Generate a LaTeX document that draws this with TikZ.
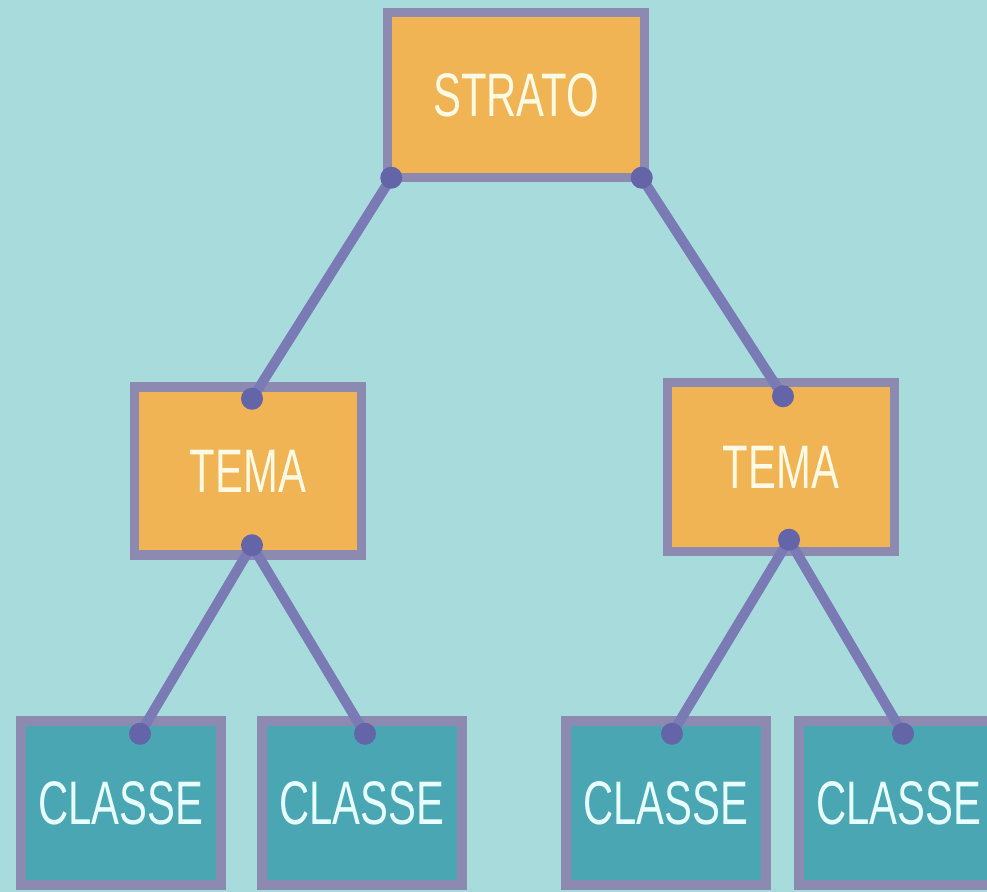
\documentclass[tikz,border=0pt]{standalone}
\usepackage{fontspec}
\usepackage{tikz}
\newfontfamily\boxfont{Liberation Sans}[FakeStretch=0.68]
\definecolor{bgc}{RGB}{168,220,220}
\definecolor{orangec}{RGB}{240,180,84}
\definecolor{tealc}{RGB}{74,166,178}
\definecolor{edgec}{RGB}{140,138,176}
\definecolor{linkc}{RGB}{122,122,180}
\definecolor{dotc}{RGB}{100,100,168}

\begin{document}
\begin{tikzpicture}[
            x=0.02cm, y=-0.02cm,
            box/.style={draw=edgec, line width=0.19cm, inner sep=0pt, outer sep=0pt,
                font=\boxfont\fontsize{35}{40}\selectfont},
            tema/.style={box, fill=orangec, text={rgb,255:red,255;green,250;blue,228},
                minimum width=4.55cm, minimum height=3.37cm},
            classe/.style={box, fill=tealc, text={rgb,255:red,232;green,255;blue,255},
                minimum width=4.01cm, minimum height=3.29cm},
            link/.style={linkc, line width=0.2cm}
        ]
            \fill [bgc] (0,0) rectangle (987,892);
            \useasboundingbox (0,0) rectangle (987,892);

            \node [tema, minimum width=5.15cm, minimum height=3.31cm] (strato) at (516,95) {STRATO};
            \node [tema] (temaA) at (248,471) {TEMA};
            \node [tema, minimum height=3.39cm] (temaB) at (781,467) {TEMA};
            \foreach \n/\x in {1/121, 2/362, 3/666, 4/899} {
                \node [classe] (classe\n) at (\x,803) {CLASSE};
            }

            % attachment points
            \coordinate (sA) at ([shift={(4,0)}]strato.south west);
            \coordinate (sB) at ([shift={(-3,0)}]strato.south east);
            \coordinate (tA1) at ([shift={(4,12)}]temaA.north);
            \coordinate (tA2) at ([shift={(4,-10)}]temaA.south);
            \coordinate (tB1) at ([shift={(2,14)}]temaB.north);
            \coordinate (tB2) at ([shift={(8,-12)}]temaB.south);
            \coordinate (c1) at ([shift={(19,13)}]classe1.north);
            \coordinate (c2) at ([shift={(3,13)}]classe2.north);
            \coordinate (c3) at ([shift={(6,13)}]classe3.north);
            \coordinate (c4) at ([shift={(4,13)}]classe4.north);

            \foreach \a/\b in {sA/tA1, sB/tB1, tA2/c1, tA2/c2, tB2/c3, tB2/c4} {
                \draw [link] (\a) -- (\b);
            }
            \foreach \p in {sA, sB, tA1, tA2, tB1, tB2, c1, c2, c3, c4} {
                \fill [dotc] (\p) circle (0.22cm);
            }
        \end{tikzpicture}
\end{document}
